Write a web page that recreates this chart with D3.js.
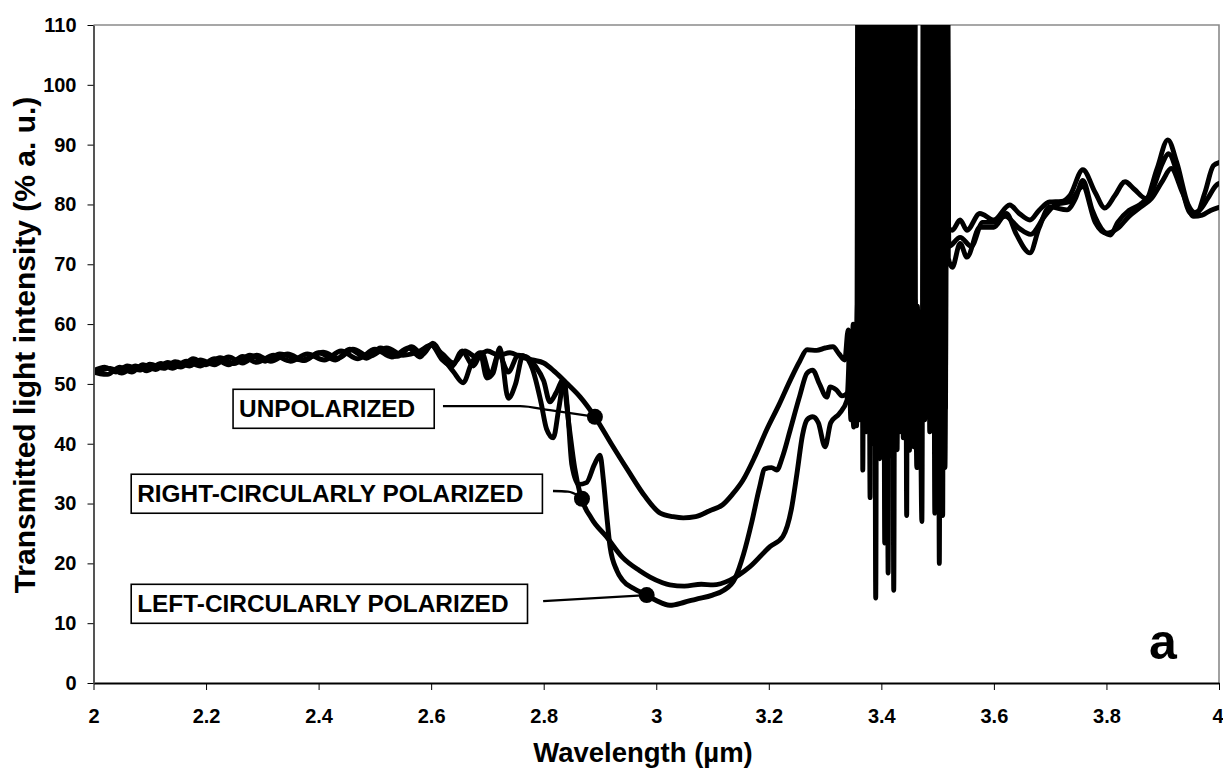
<!DOCTYPE html>
<html>
<head>
<meta charset="utf-8">
<script src="https://cdn.jsdelivr.net/npm/d3@7"></script>
<style>
    body { margin: 0; background: #fff; }
    #chart-container svg { display: block; }
    text { font-family: "Liberation Sans", Arial, sans-serif; font-weight: bold; fill: #000; }
</style>
</head>
<body>
<div id="chart-container"></div>
<script>
// Axis ticks
const xTicks = [2, 2.2, 2.4, 2.6, 2.8, 3, 3.2, 3.4, 3.6, 3.8, 4]
const yTicks = [0, 10, 20, 30, 40, 50, 60, 70, 80, 90, 100, 110]

// Transmitted intensity vs wavelength (um).
// Between 3.35 and 3.52 um the signal swings far off scale (values of 250 are "off the top").
const unpolarized = [
    [2.000, 52.0], [2.012, 51.7], [2.025, 51.6], [2.047, 52.8], [2.068, 52.0], [2.088, 53.2], [2.110, 52.4],
    [2.132, 53.6], [2.155, 52.8], [2.177, 54.2], [2.200, 53.2], [2.225, 54.4], [2.250, 53.4], [2.278, 54.8],
    [2.305, 53.8], [2.331, 55.0], [2.370, 54.0], [2.408, 55.3], [2.435, 54.3], [2.461, 55.8], [2.490, 54.6],
    [2.521, 56.0], [2.550, 54.8], [2.580, 55.5], [2.600, 56.5], [2.620, 55.0], [2.640, 53.5], [2.660, 55.5],
    [2.680, 54.5], [2.700, 55.5], [2.720, 54.8], [2.740, 55.2], [2.760, 54.5], [2.780, 54.0], [2.800, 53.5],
    [2.820, 52.0], [2.840, 50.2], [2.865, 47.8], [2.891, 44.5], [2.920, 40.0], [2.950, 35.5], [2.980, 31.2],
    [3.007, 28.4], [3.030, 27.8], [3.048, 27.6], [3.070, 27.8], [3.095, 28.8], [3.118, 29.8], [3.135, 31.5],
    [3.154, 33.9], [3.175, 37.8], [3.196, 42.3], [3.218, 46.5], [3.238, 50.6], [3.255, 53.8], [3.268, 55.7],
    [3.285, 55.6], [3.300, 56.0], [3.314, 56.2], [3.325, 55.0], [3.335, 54.0], [3.341, 59.0], [3.346, 44.0],
    [3.350, 60.0], [3.354, 48.0], [3.358, 64.0], [3.361, 44.0], [3.3655, 250], [3.370, 45.0], [3.375, 250],
    [3.380, 31.0], [3.3845, 250], [3.389, 44.0], [3.393, 250], [3.397, 37.5], [3.401, 250], [3.405, 46.0],
    [3.4085, 250], [3.412, 18.4], [3.416, 250], [3.420, 44.0], [3.424, 250], [3.428, 39.0], [3.4325, 250],
    [3.437, 47.0], [3.441, 250], [3.445, 28.0], [3.448, 250], [3.451, 43.0], [3.454, 250], [3.457, 39.5],
    [3.460, 64.0], [3.463, 36.0], [3.468, 60.0], [3.472, 27.0], [3.4765, 250], [3.481, 45.0], [3.485, 250],
    [3.489, 46.0], [3.4925, 250], [3.496, 44.0], [3.4995, 250], [3.503, 20.0], [3.5065, 250], [3.510, 45.0],
    [3.513, 250], [3.516, 150], [3.519, 76.0], [3.526, 75.7], [3.540, 77.4], [3.552, 75.7], [3.575, 78.5],
    [3.600, 77.4], [3.628, 79.9], [3.645, 78.5], [3.664, 77.4], [3.680, 79.0], [3.699, 80.4], [3.720, 80.5],
    [3.735, 81.5], [3.758, 85.8], [3.780, 82.0], [3.797, 79.4], [3.815, 81.5], [3.833, 83.8], [3.850, 82.5],
    [3.870, 81.0], [3.890, 86.0], [3.909, 90.8], [3.925, 87.0], [3.945, 80.0], [3.960, 78.5], [3.975, 82.0],
    [3.990, 86.5], [4.000, 87.0]
]

const rightCircular = [
    [2.000, 51.8], [2.030, 52.6], [2.050, 51.8], [2.075, 53.0], [2.095, 52.2], [2.120, 53.4], [2.140, 52.6],
    [2.165, 53.8], [2.190, 53.0], [2.215, 54.2], [2.240, 53.2], [2.265, 54.6], [2.290, 53.6], [2.320, 54.8],
    [2.350, 53.8], [2.380, 55.0], [2.410, 54.0], [2.440, 55.5], [2.470, 54.2], [2.500, 55.8], [2.530, 54.5],
    [2.560, 56.0], [2.580, 54.5], [2.600, 56.5], [2.620, 54.0], [2.637, 53.0], [2.655, 55.5], [2.675, 53.0],
    [2.690, 55.2], [2.705, 51.5], [2.720, 55.0], [2.737, 52.0], [2.755, 54.8], [2.770, 54.5], [2.785, 53.0],
    [2.800, 50.5], [2.811, 47.0], [2.822, 48.5], [2.834, 50.6], [2.845, 43.0], [2.855, 36.0], [2.865, 31.5],
    [2.885, 27.5], [2.912, 24.4], [2.940, 21.0], [2.970, 18.8], [2.989, 17.7], [3.010, 16.8], [3.024, 16.4],
    [3.050, 16.2], [3.080, 16.5], [3.101, 16.4], [3.131, 17.2], [3.166, 19.4], [3.202, 22.8], [3.225, 24.5],
    [3.240, 29.0], [3.250, 35.0], [3.260, 41.5], [3.268, 44.0], [3.278, 44.5], [3.288, 43.5], [3.300, 39.5],
    [3.310, 43.5], [3.325, 45.0], [3.339, 47.3], [3.345, 58.0], [3.351, 42.8], [3.355, 60.0], [3.358, 47.0],
    [3.3605, 250], [3.363, 44.0], [3.365, 250], [3.367, 35.6], [3.3715, 250], [3.376, 43.0], [3.3805, 250],
    [3.385, 40.0], [3.3895, 250], [3.394, 45.0], [3.3985, 250], [3.403, 40.0], [3.4065, 250], [3.410, 44.0],
    [3.4135, 250], [3.417, 38.0], [3.421, 250], [3.425, 46.0], [3.429, 250], [3.433, 42.0], [3.437, 250],
    [3.441, 44.0], [3.4455, 250], [3.450, 38.9], [3.453, 250], [3.456, 43.0], [3.4585, 250], [3.461, 45.0],
    [3.464, 63.0], [3.467, 48.0], [3.470, 62.0], [3.477, 44.0], [3.4815, 250], [3.486, 42.0], [3.4905, 250],
    [3.495, 28.4], [3.4985, 250], [3.502, 44.0], [3.5055, 250], [3.509, 28.0], [3.5115, 250], [3.514, 46.0],
    [3.5165, 250], [3.519, 71.0], [3.526, 69.5], [3.540, 73.5], [3.552, 71.2], [3.575, 76.2], [3.600, 76.2],
    [3.622, 78.5], [3.640, 75.0], [3.664, 71.9], [3.680, 76.0], [3.699, 79.6], [3.730, 79.1], [3.745, 81.0],
    [3.758, 84.0], [3.775, 79.0], [3.795, 75.5], [3.807, 74.9], [3.820, 77.0], [3.840, 79.0], [3.860, 80.0],
    [3.880, 82.0], [3.900, 87.0], [3.910, 88.5], [3.930, 84.0], [3.950, 78.5], [3.965, 79.0], [3.980, 81.0],
    [3.995, 83.2], [4.000, 83.5]
]

const leftCircular = [
    [2.000, 52.2], [2.020, 52.8], [2.040, 52.0], [2.060, 53.0], [2.082, 52.3], [2.100, 53.3], [2.125, 52.6],
    [2.145, 53.7], [2.170, 53.0], [2.190, 54.0], [2.215, 53.2], [2.240, 54.5], [2.265, 53.5], [2.290, 54.8],
    [2.315, 53.8], [2.345, 55.0], [2.375, 53.9], [2.400, 55.2], [2.430, 54.0], [2.455, 55.8], [2.485, 54.3],
    [2.510, 56.0], [2.540, 54.6], [2.565, 56.2], [2.585, 55.0], [2.603, 56.8], [2.620, 54.5], [2.640, 52.0],
    [2.657, 50.2], [2.672, 53.5], [2.687, 55.2], [2.699, 51.0], [2.710, 51.8], [2.722, 56.0], [2.737, 47.6],
    [2.750, 50.0], [2.763, 54.7], [2.780, 52.5], [2.795, 47.0], [2.805, 42.5], [2.817, 41.0], [2.827, 46.0],
    [2.836, 50.5], [2.843, 45.0], [2.850, 36.5], [2.862, 33.2], [2.876, 33.5], [2.890, 36.5], [2.900, 38.1],
    [2.906, 34.0], [2.912, 28.0], [2.918, 22.7], [2.930, 18.8], [2.940, 17.2], [2.960, 15.8], [2.983, 14.7],
    [3.000, 13.8], [3.024, 13.0], [3.050, 13.5], [3.070, 14.0], [3.100, 14.7], [3.120, 15.5], [3.140, 17.5],
    [3.155, 21.5], [3.170, 27.0], [3.183, 32.5], [3.193, 35.8], [3.205, 36.0], [3.214, 35.6], [3.225, 38.0],
    [3.238, 42.3], [3.255, 48.0], [3.268, 51.8], [3.278, 52.3], [3.290, 50.0], [3.303, 47.8], [3.309, 49.5],
    [3.320, 49.0], [3.330, 48.0], [3.340, 48.5], [3.348, 55.0], [3.356, 43.0], [3.3605, 250], [3.365, 45.0],
    [3.369, 250], [3.373, 42.0], [3.3775, 250], [3.382, 44.0], [3.386, 250], [3.390, 14.2], [3.394, 250],
    [3.398, 46.0], [3.402, 250], [3.406, 23.4], [3.410, 250], [3.414, 45.0], [3.418, 250], [3.422, 15.5],
    [3.4265, 250], [3.431, 44.0], [3.435, 250], [3.439, 41.0], [3.443, 250], [3.447, 45.0], [3.4505, 250],
    [3.454, 40.0], [3.468, 250], [3.483, 49.0], [3.487, 250], [3.491, 44.0], [3.495, 250], [3.499, 40.0],
    [3.5025, 250], [3.506, 45.0], [3.5095, 250], [3.513, 36.0], [3.517, 120], [3.520, 73.0], [3.540, 74.5],
    [3.560, 73.0], [3.580, 77.0], [3.600, 77.0], [3.620, 78.0], [3.645, 76.0], [3.665, 75.0], [3.690, 78.0],
    [3.710, 80.0], [3.735, 80.5], [3.758, 83.0], [3.780, 77.0], [3.800, 75.2], [3.820, 76.0], [3.840, 78.0],
    [3.860, 79.5], [3.880, 81.0], [3.900, 84.0], [3.915, 86.0], [3.935, 82.0], [3.955, 78.0], [3.970, 78.2],
    [3.985, 79.0], [4.000, 79.5]
]

// Callouts: label, box corner (um, %), leader path ending on the curve marker
const labelNames = ['UNPOLARIZED', 'RIGHT-CIRCULARLY POLARIZED', 'LEFT-CIRCULARLY POLARIZED']
const labelBoxX = [2.248, 2.067, 2.067]
const labelBoxY = [49.1, 34.9, 16.5]
const leaderPaths = [
    [[2.621, 46.3], [2.758, 46.3], [2.811, 45.6], [2.891, 44.5]],
    [[2.8165, 32.1], [2.843, 32.0], [2.861, 31.3], [2.868, 30.8]],
    [[2.799, 13.7], [2.983, 14.7]]
]

class SpectrumPlotter {
    constructor(options) {
        this.width = options.width
        this.height = options.height
        this.margin = options.margin

        this.xScale = d3.scaleLinear()
            .domain([2, 4])
            .range([this.margin.left, this.width - this.margin.right])
        this.yScale = d3.scaleLinear()
            .domain([0, 110])
            .range([this.height - this.margin.bottom, this.margin.top])

        this.svg = d3.select('#chart-container')
            .append('svg')
            .attr('width', this.width)
            .attr('height', this.height)
    }

    plot() {
        this.#createFrame()
        this.#plotCurves()
        this.#createAxes()
        this.#createCallouts()
        this.#createPanelLetter()
    }

    #createFrame() {
        const [x0, x1] = this.xScale.range()
        const [y0, y1] = this.yScale.range()
        this.svg.append('clipPath')
            .attr('id', 'plot-clip')
            .append('rect')
            .attr('x', x0).attr('y', y1)
            .attr('width', x1 - x0).attr('height', y0 - y1)

        // grey border on top and right, like the spreadsheet plot area
        this.svg.append('path')
            .attr('d', `M${x0},${y1}H${x1}V${y0}`)
            .attr('fill', 'none')
            .attr('stroke', '#8a8a8a')
            .attr('stroke-width', 1.6)
    }

    #plotCurves() {
        const line = d3.line()
            .x(d => this.xScale(d[0]))
            .y(d => this.yScale(d[1]))
            .curve(d3.curveMonotoneX)

        this.svg.append('g')
            .attr('clip-path', 'url(#plot-clip)')
            .selectAll('.curve')
            .data([unpolarized, rightCircular, leftCircular])
            .enter()
            .append('path')
            .attr('class', 'curve')
            .attr('d', line)
            .attr('fill', 'none')
            .attr('stroke', '#000')
            .attr('stroke-width', 4.9)
            .attr('stroke-linejoin', 'round')
            .attr('stroke-linecap', 'round')
    }

    #createAxes() {
        const xAxis = d3.axisBottom(this.xScale)
            .tickValues(xTicks)
            .tickFormat(d3.format('~g'))
            .tickSize(7)
            .tickSizeOuter(0)
            .tickPadding(19)
        const gx = this.svg.append('g')
            .attr('transform', 'translate(0,' + this.yScale(0) + ')')
            .call(xAxis)
        gx.select('.domain').attr('stroke', '#000').attr('stroke-width', 2)
        gx.selectAll('.tick line').attr('stroke', '#000')
        gx.selectAll('.tick text').attr('font-size', 20).attr('font-family', null)
        // the last label sits against the right edge of the picture
        gx.selectAll('.tick text').filter(d => d === 4)
            .attr('text-anchor', 'end')
            .attr('dx', 4)

        const yAxis = d3.axisLeft(this.yScale)
            .tickValues(yTicks)
            .tickSize(6)
            .tickSizeOuter(0)
            .tickPadding(11)
        const gy = this.svg.append('g')
            .attr('transform', 'translate(' + this.xScale(2) + ',0)')
            .call(yAxis)
        gy.select('.domain').attr('stroke', '#555').attr('stroke-width', 2)
        gy.selectAll('.tick line').attr('stroke', '#000')
        gy.selectAll('.tick text').attr('font-size', 20).attr('font-family', null)

        this.svg.append('text')
            .attr('x', 643)
            .attr('y', 762)
            .attr('text-anchor', 'middle')
            .attr('font-size', 27.5)
            .text('Wavelength (µm)')

        this.svg.append('text')
            .attr('transform', 'translate(35,' + 345 + ') rotate(-90)')
            .attr('text-anchor', 'middle')
            .attr('font-size', 30)
            .text('Transmitted light intensity (% a. u.)')
    }

    #createCallouts() {
        const leader = d3.line()
            .x(d => this.xScale(d[0]))
            .y(d => this.yScale(d[1]))
            .curve(d3.curveMonotoneX)

        labelNames.forEach((name, i) => {
            const g = this.svg.append('g')
            const bx = this.xScale(labelBoxX[i])
            const by = this.yScale(labelBoxY[i])
            const box = g.append('rect')
            const label = g.append('text')
                .attr('x', bx + 6)
                .attr('y', by + 28)
                .attr('font-size', 24.4)
                .text(name)
            const w = label.node().getComputedTextLength()
            box.attr('x', bx).attr('y', by)
                .attr('width', w + 25)
                .attr('height', 39)
                .attr('fill', '#fff')
                .attr('stroke', '#000')
                .attr('stroke-width', 1.6)

            g.append('path')
                .attr('d', leader(leaderPaths[i]))
                .attr('fill', 'none')
                .attr('stroke', '#000')
                .attr('stroke-width', 2.3)
            const end = leaderPaths[i][leaderPaths[i].length - 1]
            g.append('circle')
                .attr('cx', this.xScale(end[0]))
                .attr('cy', this.yScale(end[1]))
                .attr('r', 8)
                .attr('fill', '#000')
        })
    }

    #createPanelLetter() {
        this.svg.append('text')
            .attr('x', 1149)
            .attr('y', 659)
            .attr('font-size', 50)
            .text('a')
    }
}

new SpectrumPlotter({
    width: 1223,
    height: 773,
    margin: { top: 25, right: 4, bottom: 90, left: 93.5 }
}).plot()
</script>
</body>
</html>
